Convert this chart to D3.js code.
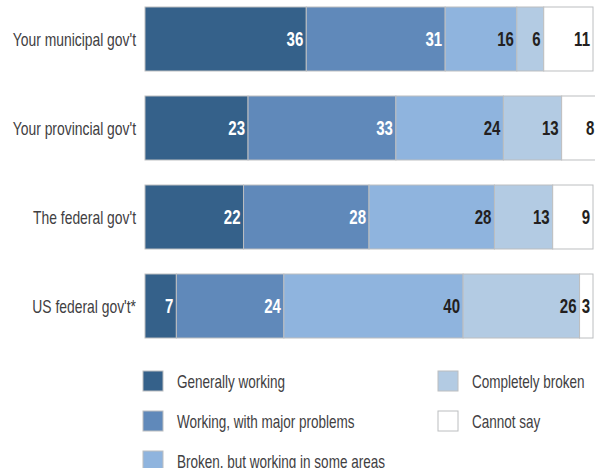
<!DOCTYPE html>
<html>
<head>
<meta charset="utf-8">
<script src="https://cdn.jsdelivr.net/npm/d3@7"></script>
<style>
  body { margin: 0; background: #fff; }
  svg text { font-family: "Liberation Sans", Arial, sans-serif; }
</style>
</head>
<body>
<svg id="chart"></svg>
<script>
const width = 595
const height = 468

const categories = ["Your municipal gov't", "Your provincial gov't", "The federal gov't", "US federal gov't*"]
const seriesNames = ['Generally working', 'Working, with major problems', 'Broken, but working in some areas', 'Completely broken', 'Cannot say']
const generallyWorking = [36, 23, 22, 7]
const majorProblems = [31, 33, 28, 24]
const brokenSomeAreas = [16, 24, 28, 40]
const completelyBroken = [6, 13, 13, 26]
const cannotSay = [11, 8, 9, 3]

const seriesValues = [generallyWorking, majorProblems, brokenSomeAreas, completelyBroken, cannotSay]
const colours = ['#35618a', '#6089ba', '#8fb4de', '#b3cbe3', '#ffffff']
const labelColours = ['#ffffff', '#ffffff', '#231f20', '#231f20', '#231f20']

const svg = d3.select('#chart')
    .attr('width', width)
    .attr('height', height)

// no condensed font installed, so squeeze glyphs horizontally
const condense = (sel, k) => sel.each(function () {
    const len = this.getComputedTextLength()
    d3.select(this)
        .attr('textLength', len * k)
        .attr('lengthAdjust', 'spacingAndGlyphs')
})

const x = d3.scaleLinear().domain([0, 100]).range([145, 593])
const y = d3.scaleBand().domain(categories).range([7, 338]).paddingInner(0.281).paddingOuter(0)

// stack the rows
const rows = categories.map((c, i) => {
    let acc = 0
    return seriesValues.map((s, k) => {
        const seg = { cat: c, k, v: s[i], x0: acc, x1: acc + s[i] }
        acc += s[i]
        return seg
    })
})

const bars = svg.append('g')
rows.forEach(row => {
    const g = bars.append('g')
    g.selectAll('rect')
        .data(row)
        .join('rect')
        .attr('x', d => x(d.x0))
        .attr('y', d => y(d.cat))
        .attr('width', d => x(d.x1) - x(d.x0))
        .attr('height', y.bandwidth())
        .attr('fill', d => colours[d.k])
        .attr('stroke', '#bcbec0')
        .attr('stroke-width', 1)

    g.selectAll('text')
        .data(row)
        .join('text')
        .attr('x', d => x(d.x1) - 3)
        .attr('y', d => y(d.cat) + y.bandwidth() / 2)
        .attr('dy', '0.36em')
        .attr('text-anchor', 'end')
        .attr('font-size', 19.5)
        .attr('font-weight', 'bold')
        .attr('fill', d => labelColours[d.k])
        .text(d => d.v)
        .call(condense, 0.77)
})

svg.append('g')
    .selectAll('text')
    .data(categories)
    .join('text')
    .attr('x', 136)
    .attr('y', d => y(d) + y.bandwidth() / 2)
    .attr('dy', '0.36em')
    .attr('text-anchor', 'end')
    .attr('font-size', 18.5)
    .attr('fill', '#414042')
    .text(d => d)
    .call(condense, 0.75)

// legend, two columns
const legendPos = [[143, 371], [143, 411], [143, 451], [438, 371], [438, 411]]
const legend = svg.append('g')
    .selectAll('g')
    .data(seriesNames)
    .join('g')
    .attr('transform', (d, i) => `translate(${legendPos[i]})`)

legend.append('rect')
    .attr('width', 20)
    .attr('height', 20)
    .attr('fill', (d, i) => colours[i])
    .attr('stroke', '#bcbec0')

legend.append('text')
    .attr('x', 34)
    .attr('y', 10)
    .attr('dy', '0.36em')
    .attr('font-size', 18.5)
    .attr('fill', '#414042')
    .text(d => d)
    .call(condense, 0.73)
</script>
</body>
</html>
